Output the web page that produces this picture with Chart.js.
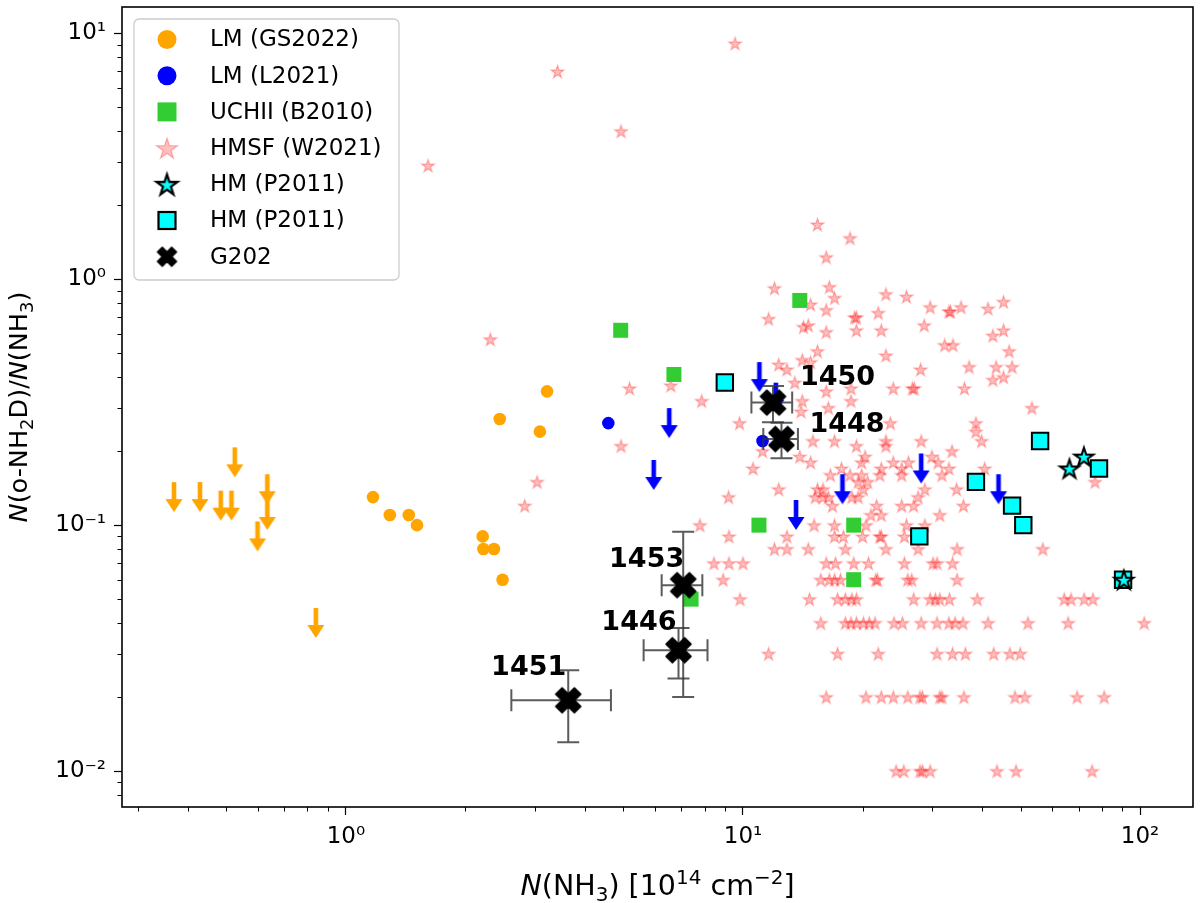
<!DOCTYPE html>
<html lang="en">
<head>
<meta charset="UTF-8" />
<title>N(o-NH2D)/N(NH3) vs N(NH3)</title>
<script src="https://cdn.jsdelivr.net/npm/chart.js@4"></script>
<style>
  html, body { margin: 0; padding: 0; background: #fff; }
</style>
</head>
<body>
<canvas id="plot" width="1200" height="903"></canvas>
<script>
// ---- data ----
const xRange = [0.273, 135.9];
const yRange = [0.00714, 12.8];
const xTickValues = [1, 10, 100];
const xTickLabels = ['10⁰', '10¹', '10²'];
const yTickValues = [0.01, 0.1, 1, 10];
const yTickLabels = ['10⁻²', '10⁻¹', '10⁰', '10¹'];

// LM (GS2022) detections and upper limits
const gsX = [1.17, 1.29, 1.44, 1.51, 2.21, 2.22, 2.36, 2.48, 2.44, 3.21, 3.08];
const gsY = [0.13, 0.11, 0.11, 0.10, 0.09, 0.08, 0.08, 0.06, 0.27, 0.35, 0.24];
const gsLimX = [0.369, 0.429, 0.484, 0.515, 0.525, 0.634, 0.634, 0.599, 0.840];
const gsLimY = [0.13, 0.13, 0.12, 0.12, 0.18, 0.14, 0.11, 0.09, 0.04];

// LM (L2021) detections and upper limits
const lX = [4.58, 11.2];
const lY = [0.26, 0.22];
const lLimX = [11.0, 6.52, 12.1, 5.96, 13.6, 17.8, 28.1, 44.0];
const lLimY = [0.40, 0.26, 0.33, 0.16, 0.11, 0.14, 0.17, 0.14];

// UCHII (B2010)
const uchiiX = [13.9, 4.92, 6.70, 10.97, 19.0, 19.0, 7.40];
const uchiiY = [0.82, 0.62, 0.41, 0.10, 0.10, 0.06, 0.05];

// HMSF (W2021)
const hmsfX = [
  9.55, 3.41, 4.93, 1.61, 15.4, 18.6, 16.2, 12.0, 16.5, 17.0,
  22.9, 25.8, 14.8, 16.2, 19.1, 19.3, 21.9, 29.6, 33.0, 33.3,
  35.4, 41.4, 45.3, 11.6, 2.31, 14.2, 14.6, 16.2, 19.3, 22.3,
  28.6, 42.6, 45.3, 15.4, 22.9, 32.2, 33.8, 46.8, 12.3, 12.9,
  14.1, 14.8, 28.0, 37.1, 43.4, 47.6, 42.6, 45.3, 13.5, 5.18,
  6.58, 16.2, 18.7, 23.9, 26.7, 27.0, 36.1, 7.87, 14.1, 18.7,
  14.0, 16.4, 53.4, 9.8, 23.5, 38.6, 38.6, 39.9, 4.93, 15.0,
  17.0, 19.3, 22.9, 22.9, 28.1, 11.2, 10.6, 13.9, 14.8, 20.3,
  19.9, 22.3, 23.9, 25.1, 26.1, 29.9, 31.0, 33.6, 16.6, 17.7,
  18.6, 19.9, 20.6, 19.5, 20.1, 22.1, 25.1, 31.7, 33.0, 40.6,
  12.3, 9.2, 15.4, 15.9, 15.2, 15.9, 16.4, 16.8, 18.8, 21.7,
  21.0, 22.3, 25.1, 26.9, 27.6, 28.7, 34.5, 35.9, 31.3, 3.03,
  2.82, 19.5, 77.0,
  7.79, 15.1, 17.0, 20.4, 25.8, 28.7,
  9.22, 12.9, 17.0, 17.9, 20.0, 22.1, 22.3, 25.5,
  12.0, 12.9, 14.6, 18.1, 22.9, 27.6, 34.6, 56.9,
  8.45, 9.22, 10.0, 16.2, 17.1, 19.0, 20.7, 25.5, 30.1, 30.8, 33.7,
  8.91, 15.7, 16.5, 17.0, 17.6, 21.6, 21.8, 26.0, 26.6, 34.6,
  9.83, 14.7, 17.3, 18.1, 18.8, 19.3, 26.9, 29.6, 30.5, 31.3, 33.1, 38.9, 64.4, 67.0, 72.3, 76.1,
  15.7, 18.1, 18.7, 19.3, 20.1, 20.8, 21.5, 24.0, 25.2, 28.1, 30.8, 33.0, 34.2, 35.8, 41.4, 52.2, 65.9, 102.4,
  11.6, 17.3, 21.9, 30.8, 33.7, 36.3, 42.8, 47.0, 49.9,
  16.2, 20.4, 22.3, 23.9, 26.0, 27.9, 28.3, 31.3, 31.7, 36.0, 48.4, 51.3, 69.4, 81.2,
  24.3, 25.4, 27.9, 28.3, 29.6, 43.6, 48.7, 75.7
];
const hmsfY = [
  9.1, 7.0, 4.0, 2.9, 1.67, 1.47, 1.23, 0.92, 0.93, 0.84,
  0.87, 0.85, 0.79, 0.75, 0.70, 0.70, 0.73, 0.77, 0.74, 0.74,
  0.77, 0.76, 0.81, 0.69, 0.57, 0.64, 0.65, 0.61, 0.62, 0.62,
  0.65, 0.59, 0.62, 0.51, 0.49, 0.54, 0.54, 0.51, 0.45, 0.43,
  0.47, 0.46, 0.43, 0.44, 0.44, 0.44, 0.39, 0.40, 0.38, 0.36,
  0.37, 0.35, 0.36, 0.36, 0.36, 0.36, 0.36, 0.32, 0.32, 0.32,
  0.29, 0.30, 0.30, 0.26, 0.26, 0.26, 0.24, 0.22, 0.21, 0.22,
  0.22, 0.21, 0.22, 0.21, 0.22, 0.20, 0.17, 0.19, 0.18, 0.19,
  0.18, 0.17, 0.18, 0.17, 0.18, 0.19, 0.18, 0.20, 0.16, 0.17,
  0.16, 0.16, 0.15, 0.15, 0.14, 0.16, 0.16, 0.16, 0.17, 0.17,
  0.14, 0.13, 0.14, 0.14, 0.13, 0.13, 0.13, 0.12, 0.13, 0.12,
  0.11, 0.11, 0.12, 0.12, 0.13, 0.14, 0.14, 0.12, 0.11, 0.15,
  0.12, 0.13, 0.15,
  0.10, 0.10, 0.10, 0.10, 0.10, 0.10,
  0.09, 0.09, 0.09, 0.09, 0.09, 0.09, 0.09, 0.09,
  0.08, 0.08, 0.08, 0.08, 0.08, 0.08, 0.08, 0.08,
  0.07, 0.07, 0.07, 0.07, 0.07, 0.07, 0.07, 0.07, 0.07, 0.07, 0.07,
  0.06, 0.06, 0.06, 0.06, 0.06, 0.06, 0.06, 0.06, 0.06, 0.06,
  0.05, 0.05, 0.05, 0.05, 0.05, 0.05, 0.05, 0.05, 0.05, 0.05, 0.05, 0.05, 0.05, 0.05, 0.05, 0.05,
  0.04, 0.04, 0.04, 0.04, 0.04, 0.04, 0.04, 0.04, 0.04, 0.04, 0.04, 0.04, 0.04, 0.04, 0.04, 0.04, 0.04, 0.04,
  0.03, 0.03, 0.03, 0.03, 0.03, 0.03, 0.03, 0.03, 0.03,
  0.02, 0.02, 0.02, 0.02, 0.02, 0.02, 0.02, 0.02, 0.02, 0.02, 0.02, 0.02, 0.02, 0.02,
  0.01, 0.01, 0.01, 0.01, 0.01, 0.01, 0.01, 0.01
];

// HM (P2011)
const hmStarX = [66.4, 72.2, 91.0];
const hmStarY = [0.17, 0.19, 0.06];
const hmSqX = [9.0, 27.8, 38.6, 47.6, 50.8, 56.0, 78.8, 90.6];
const hmSqY = [0.38, 0.09, 0.15, 0.12, 0.10, 0.22, 0.17, 0.06];

// G202 cores with errors
const g202Names = ['1450', '1448', '1453', '1446', '1451'];
const g202X = [11.9, 12.5, 7.07, 6.88, 3.63];
const g202Xerr = [1.4, 1.25, 0.83, 1.26, 1.02];
const g202Y = [0.315, 0.224, 0.057, 0.031, 0.0194];
const g202Yerr = [0.053, 0.037, 0.037, 0.0072, 0.0063];

const legendLabels = ['LM (GS2022)', 'LM (L2021)', 'UCHII (B2010)', 'HMSF (W2021)', 'HM (P2011)', 'HM (P2011)', 'G202'];

// ---- marker images ----
const FONT = '"DejaVu Sans", sans-serif';

function makeCanvas(w, h) {
  const c = document.createElement('canvas');
  c.width = w; c.height = h;
  return c;
}

function starPath(g, cx, cy, R) {
  const r = R * 0.382;
  g.beginPath();
  for (let i = 0; i < 10; i++) {
    const a = -Math.PI / 2 + i * Math.PI / 5;
    const rad = i % 2 ? r : R;
    g.lineTo(cx + rad * Math.cos(a), cy + rad * Math.sin(a));
  }
  g.closePath();
}

function starMarker(R, fill, edge, lw) {
  const s = Math.ceil(2 * R + lw + 4);
  const c = makeCanvas(s, s), g = c.getContext('2d');
  starPath(g, s / 2, s / 2 + R * 0.1, R);
  g.fillStyle = fill; g.fill();
  g.lineWidth = lw; g.strokeStyle = edge; g.stroke();
  return c;
}

function xMarker(size, color) {
  const s = Math.ceil(size + 4);
  const c = makeCanvas(s, s), g = c.getContext('2d');
  const a = size * 0.18, L = size / 2 * Math.SQRT2 - a;
  const pts = [[a, L], [a, a], [L, a], [L, -a], [a, -a], [a, -L], [-a, -L], [-a, -a], [-L, -a], [-L, a], [-a, a], [-a, L]];
  g.translate(s / 2, s / 2);
  g.rotate(Math.PI / 4);
  g.beginPath();
  pts.forEach(p => g.lineTo(p[0], p[1]));
  g.closePath();
  g.fillStyle = color; g.fill();
  g.lineJoin = 'round'; g.lineWidth = 1.5; g.strokeStyle = color; g.stroke();
  return c;
}

function arrowMarker(color) {
  const w = 20, h = 32;
  const c = makeCanvas(w, h), g = c.getContext('2d');
  g.fillStyle = color;
  g.fillRect(w / 2 - 2.3, 1, 4.6, 19);
  g.beginPath();
  g.moveTo(1.5, 18); g.lineTo(w - 1.5, 18); g.lineTo(w / 2, h - 1);
  g.closePath(); g.fill();
  return c;
}

const pinkStar = starMarker(6.6, 'rgba(255,0,0,0.25)', 'rgba(255,0,0,0.3)', 1.3);
const cyanStar = starMarker(10, '#00ffff', '#000', 2);
const g202Mark = xMarker(25, '#000');
const arrowOrange = arrowMarker('#ffa500');
const arrowBlue = arrowMarker('#0000ff');

const pts = (xs, ys) => xs.map((x, i) => ({ x: x, y: ys[i] }));

const datasets = [
  { label: 'HMSF (W2021)', data: pts(hmsfX, hmsfY), pointStyle: pinkStar, order: 10 },
  { label: 'LM (GS2022)', data: pts(gsX, gsY), pointStyle: 'circle', pointRadius: 6.3, backgroundColor: '#ffa500', borderWidth: 0, order: 8 },
  { label: 'LM (GS2022) lim', data: pts(gsLimX, gsLimY), pointStyle: arrowOrange, order: 8 },
  { label: 'LM (L2021)', data: pts(lX, lY), pointStyle: 'circle', pointRadius: 6.3, backgroundColor: '#0000ff', borderWidth: 0, order: 7 },
  { label: 'LM (L2021) lim', data: pts(lLimX, lLimY), pointStyle: arrowBlue, order: 7 },
  { label: 'UCHII (B2010)', data: pts(uchiiX, uchiiY), pointStyle: 'rect', pointRadius: 10.6, backgroundColor: '#32cd32', borderWidth: 0, order: 5 },
  { label: 'HM (P2011) sq', data: pts(hmSqX, hmSqY), pointStyle: 'rect', pointRadius: 11.6, backgroundColor: '#00ffff', borderColor: '#000', borderWidth: 2, order: 3 },
  { label: 'HM (P2011) star', data: pts(hmStarX, hmStarY), pointStyle: cyanStar, order: 2 },
  { label: 'G202', data: pts(g202X, g202Y), pointStyle: g202Mark, order: 0 }
];
const G202_INDEX = datasets.length - 1;

function drawRich(g, segs, x, y, size) {
  const fontFor = st => (st === 'i' ? 'italic ' : '') + (st === 'sub' || st === 'sup' ? Math.round(size * 0.7) : size) + 'px ' + FONT;
  let total = 0;
  segs.forEach(([t, st]) => { g.font = fontFor(st); total += g.measureText(t).width; });
  let cx = x - total / 2;
  g.textAlign = 'left';
  g.textBaseline = 'alphabetic';
  segs.forEach(([t, st]) => {
    g.font = fontFor(st);
    const dy = st === 'sub' ? size * 0.22 : st === 'sup' ? -size * 0.4 : 0;
    g.fillText(t, cx, y + dy);
    cx += g.measureText(t).width;
  });
}

const labelOffsets = {
  '1450': [27, -25, 'left'],
  '1448': [28, -14, 'left'],
  '1453': [1, -25, 'right'],
  '1446': [-2, -27, 'right'],
  '1451': [-2, -32, 'right']
};

const extras = {
  id: 'extras',
  beforeDatasetDraw(chart, args) {
    if (args.index !== G202_INDEX) return;
    const g = chart.ctx, xs = chart.scales.x, ys = chart.scales.y;
    g.save();
    g.strokeStyle = 'rgba(50,50,50,0.8)';
    g.lineWidth = 2;
    const cap = 11;
    g202X.forEach((x, i) => {
      const px = xs.getPixelForValue(x), py = ys.getPixelForValue(g202Y[i]);
      const x0 = xs.getPixelForValue(x - g202Xerr[i]), x1 = xs.getPixelForValue(x + g202Xerr[i]);
      const y0 = ys.getPixelForValue(g202Y[i] - g202Yerr[i]), y1 = ys.getPixelForValue(g202Y[i] + g202Yerr[i]);
      g.beginPath();
      g.moveTo(x0, py); g.lineTo(x1, py);
      g.moveTo(x0, py - cap); g.lineTo(x0, py + cap);
      g.moveTo(x1, py - cap); g.lineTo(x1, py + cap);
      g.moveTo(px, y0); g.lineTo(px, y1);
      g.moveTo(px - cap, y0); g.lineTo(px + cap, y0);
      g.moveTo(px - cap, y1); g.lineTo(px + cap, y1);
      g.stroke();
    });
    g.restore();
  },
  afterDatasetsDraw(chart) {
    const g = chart.ctx, xs = chart.scales.x, ys = chart.scales.y;
    g.save();
    g.fillStyle = '#000';
    g.font = 'bold 27px ' + FONT;
    g.textBaseline = 'middle';
    g202Names.forEach((name, i) => {
      const off = labelOffsets[name];
      g.textAlign = off[2];
      g.fillText(name, xs.getPixelForValue(g202X[i]) + off[0], ys.getPixelForValue(g202Y[i]) + off[1]);
    });
    g.restore();
  },
  afterDraw(chart) {
    const g = chart.ctx, a = chart.chartArea, xs = chart.scales.x, ys = chart.scales.y;
    g.save();
    // minor ticks
    g.strokeStyle = '#000';
    g.lineWidth = 1;
    g.beginPath();
    for (let e = -3; e <= 2; e++) {
      for (let m = 2; m <= 9; m++) {
        const v = m * Math.pow(10, e);
        if (v > xRange[0] && v < xRange[1]) {
          const px = Math.round(xs.getPixelForValue(v)) + 0.5;
          g.moveTo(px, a.bottom); g.lineTo(px, a.bottom + 4.5);
        }
        if (v > yRange[0] && v < yRange[1]) {
          const py = Math.round(ys.getPixelForValue(v)) + 0.5;
          g.moveTo(a.left, py); g.lineTo(a.left - 4.5, py);
        }
      }
    }
    g.stroke();
    // frame
    g.lineWidth = 1.6;
    g.strokeRect(a.left, a.top, a.right - a.left, a.bottom - a.top);
    // axis titles
    g.fillStyle = '#000';
    drawRich(g, [['N', 'i'], ['(NH', ''], ['3', 'sub'], [') [10', ''], ['14', 'sup'], [' cm', ''], ['−2', 'sup'], [']', '']],
      (a.left + a.right) / 2, 895, 28.5);
    g.translate(27, (a.top + a.bottom) / 2);
    g.rotate(-Math.PI / 2);
    drawRich(g, [['N', 'i'], ['(o-NH', ''], ['2', 'sub'], ['D)/', ''], ['N', 'i'], ['(NH', ''], ['3', 'sub'], [')', '']], 0, 0, 25.5);
    g.restore();

    // legend
    g.save();
    const bx = 134, by = 19, bw = 265, bh = 261, r = 5;
    g.beginPath();
    g.moveTo(bx + r, by); g.arcTo(bx + bw, by, bx + bw, by + bh, r);
    g.arcTo(bx + bw, by + bh, bx, by + bh, r); g.arcTo(bx, by + bh, bx, by, r);
    g.arcTo(bx, by, bx + bw, by, r); g.closePath();
    g.fillStyle = 'rgba(255,255,255,0.85)'; g.fill();
    g.strokeStyle = '#cccccc'; g.lineWidth = 1.3; g.stroke();
    const mx = 167, tx = 210;
    legendLabels.forEach((lab, i) => {
      const cy = 39.5 + i * 36.2;
      if (i === 0 || i === 1) {
        g.beginPath(); g.arc(mx, cy, 9.5, 0, Math.PI * 2);
        g.fillStyle = i === 0 ? '#ffa500' : '#0000ff'; g.fill();
      } else if (i === 2) {
        g.fillStyle = '#32cd32'; g.fillRect(mx - 9.5, cy - 9.5, 19, 19);
      } else if (i === 3) {
        const s = starMarker(11, 'rgba(255,0,0,0.25)', 'rgba(255,0,0,0.28)', 1.3);
        g.drawImage(s, mx - s.width / 2, cy - s.height / 2);
      } else if (i === 4) {
        const s = starMarker(11, '#00ffff', '#000', 2.2);
        g.drawImage(s, mx - s.width / 2, cy - s.height / 2);
      } else if (i === 5) {
        g.fillStyle = '#00ffff'; g.fillRect(mx - 8.5, cy - 8.5, 17, 17);
        g.strokeStyle = '#000'; g.lineWidth = 2.2; g.strokeRect(mx - 8.5, cy - 8.5, 17, 17);
      } else {
        const s = xMarker(19, '#000');
        g.drawImage(s, mx - s.width / 2, cy - s.height / 2);
      }
      g.fillStyle = '#000';
      g.font = '23px ' + FONT;
      g.textAlign = 'left';
      g.textBaseline = 'middle';
      g.fillText(lab, tx, cy + 1);
    });
    g.restore();
  }
};

const zeroPad = s => { s.paddingLeft = 0; s.paddingRight = 0; s.paddingTop = 0; s.paddingBottom = 0; };

const axisCommon = {
  type: 'logarithmic',
  grid: { display: true, drawOnChartArea: false, drawTicks: true, tickLength: 8, tickColor: '#000', tickWidth: 1.2 },
  border: { display: false },
  title: { display: false }
};

new Chart(document.getElementById('plot'), {
  type: 'scatter',
  data: { datasets: datasets },
  options: {
    responsive: false,
    animation: false,
    events: [],
    layout: { autoPadding: false, padding: { top: 7, right: 7, left: 0, bottom: 0 } },
    plugins: { legend: { display: false }, tooltip: { enabled: false } },
    scales: {
      x: Object.assign({}, axisCommon, {
        position: 'bottom',
        min: xRange[0],
        max: xRange[1],
        afterBuildTicks: s => { s.ticks = xTickValues.map(v => ({ value: v })); },
        afterFit: s => { s.height = 96; zeroPad(s); },
        ticks: {
          callback: (v, i) => xTickLabels[i],
          font: { family: FONT, size: 23 },
          color: '#000', padding: 8, maxRotation: 0, autoSkip: false
        }
      }),
      y: Object.assign({}, axisCommon, {
        position: 'left',
        min: yRange[0],
        max: yRange[1],
        afterBuildTicks: s => { s.ticks = yTickValues.map(v => ({ value: v })); },
        afterFit: s => { s.width = 122; zeroPad(s); },
        ticks: {
          callback: (v, i) => yTickLabels[i],
          font: { family: FONT, size: 23 },
          color: '#000', padding: 8, autoSkip: false
        }
      })
    }
  },
  plugins: [extras]
});
</script>
</body>
</html>
